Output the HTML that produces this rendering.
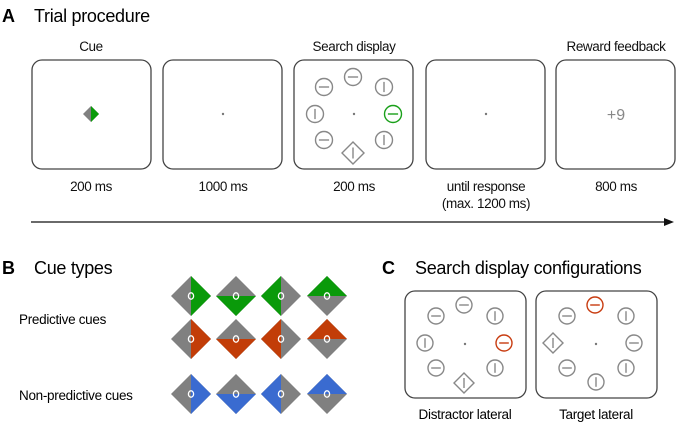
<!DOCTYPE html>
<html><head><meta charset="utf-8"><style>
html,body{margin:0;padding:0;background:#fff}
svg{display:block;font-family:"Liberation Sans",Arial,sans-serif}
</style></head><body>
<svg id="s" width="677" height="423" viewBox="0 0 677 423" xmlns="http://www.w3.org/2000/svg">
<text x="2" y="22" font-size="18" font-weight="bold">A</text>
<text x="34" y="22" font-size="18" letter-spacing="-0.3">Trial procedure</text>
<g font-size="13.5" text-anchor="middle" fill="#111" letter-spacing="-0.4">
<text x="91" y="51">Cue</text>
<text x="354" y="51">Search display</text>
<text x="616" y="51">Reward feedback</text>
<text x="91" y="191">200 ms</text>
<text x="223" y="191">1000 ms</text>
<text x="354" y="191">200 ms</text>
<text x="486" y="191">until response</text>
<text x="486" y="208">(max. 1200 ms)</text>
<text x="616" y="191">800 ms</text>
</g>
<line x1="31" y1="222" x2="666" y2="222" stroke="#111" stroke-width="1.3"/>
<polygon points="674,222 664,218 664,226" fill="#111"/>
<text x="616" y="120" font-size="16" fill="#888" text-anchor="middle">+9</text>
<text x="2" y="274" font-size="18" font-weight="bold">B</text>
<text x="34" y="274" font-size="18" letter-spacing="-0.3">Cue types</text>
<text x="19" y="324" font-size="13.5" letter-spacing="-0.3">Predictive cues</text>
<text x="19" y="400" font-size="13.5" letter-spacing="-0.3">Non-predictive cues</text>
<text x="382" y="274" font-size="18" font-weight="bold">C</text>
<text x="415" y="274" font-size="18" letter-spacing="-0.3">Search display configurations</text>
<text x="465" y="419" font-size="13.5" text-anchor="middle" letter-spacing="-0.3">Distractor lateral</text>
<text x="596" y="419" font-size="13.5" text-anchor="middle" letter-spacing="-0.3">Target lateral</text>
<g id="g"></g>
</svg>
<script>
var g=document.getElementById('g'),h='';
function box(x,y,w,hh){h+='<rect x="'+x+'" y="'+y+'" width="'+w+'" height="'+hh+'" rx="10" fill="none" stroke="#444" stroke-width="1.3"/>';}
[32,163,294,426,556].forEach(function(x){box(x,60,119,109);});
box(405,291,121,107);box(536,291,121,107);
function dot(x,y){h+='<circle cx="'+x+'" cy="'+y+'" r="1.2" fill="#777"/>';}
function circ(x,y,r,o,c){c=c||'#888';h+='<circle cx="'+x+'" cy="'+y+'" r="'+r+'" fill="none" stroke="'+c+'" stroke-width="1.4"/>';
 var l=r*0.6; if(o=='h')h+='<line x1="'+(x-l)+'" y1="'+y+'" x2="'+(x+l)+'" y2="'+y+'" stroke="'+c+'" stroke-width="1.4"/>';
 else h+='<line x1="'+x+'" y1="'+(y-l)+'" x2="'+x+'" y2="'+(y+l)+'" stroke="#888" stroke-width="1.4"/>';}
function dia(x,y,a,o){h+='<polygon points="'+x+','+(y-a)+' '+(x+a)+','+y+' '+x+','+(y+a)+' '+(x-a)+','+y+'" fill="none" stroke="#888" stroke-width="1.4"/>';
 var l=a*0.5; if(o=='v')h+='<line x1="'+x+'" y1="'+(y-l)+'" x2="'+x+'" y2="'+(y+l)+'" stroke="#888" stroke-width="1.4"/>';}
dot(91,114);dot(223,114);dot(354,114);dot(486,114);dot(465,344);dot(596,344);
circ(353,77,8.5,'h');circ(324,87,8.5,'h');circ(384,87,8.5,'v');circ(315,114,8.5,'v');circ(393,114,8.5,'h','#1aa01a');
circ(324,140,8.5,'h');circ(384,140,8.5,'v');dia(353,153,11,'v');
var R='#c83c10';
circ(464,305,8,'h');circ(436,316,8,'h');circ(495,316,8,'v');circ(425,343,8,'v');circ(504,343,8,'h',R);
circ(436,368,8,'h');circ(495,368,8,'v');dia(464,383,10,'v');
circ(595,305,8,'h',R);circ(567,316,8,'h');circ(626,316,8,'v');dia(553,343,10,'v');circ(634,343,8,'h');
circ(567,368,8,'h');circ(626,368,8,'v');circ(596,382,8,'v');
function cue(x,y,a,t,c,ring){var G='#808080';
 var T=x+','+(y-a),Rr=(x+a)+','+y,B=x+','+(y+a),L=(x-a)+','+y;
 h+='<polygon points="'+T+' '+Rr+' '+B+' '+L+'" fill="'+G+'"/>';
 var p; if(t==0)p=[T,Rr,B]; else if(t==1)p=[L,Rr,B]; else if(t==2)p=[T,L,B]; else p=[L,T,Rr];
 h+='<polygon points="'+p.join(' ')+'" fill="'+c+'"/>';
 if(ring)h+='<ellipse cx="'+x+'" cy="'+y+'" rx="2.6" ry="3.2" fill="none" stroke="#fff" stroke-width="1.3"/>';}
cue(91,114,8,0,'#0a9a0a',false);
var cols=[191,236,281,327],rows=[[296,'#0a9a0a'],[339,'#c23d08'],[394,'#3a6bd0']];
rows.forEach(function(r){cols.forEach(function(x,i){cue(x,r[0],20,i,r[1],true);});});
g.innerHTML=h;
</script>
</body></html>
